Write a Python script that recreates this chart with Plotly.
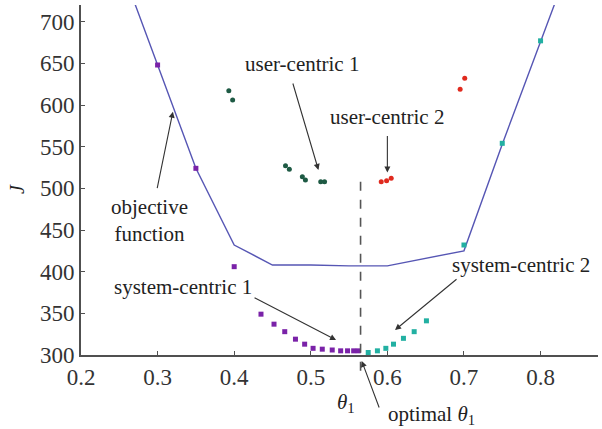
import plotly.graph_objects as go

# ---- data ----
obj_theta = [0.25, 0.30, 0.35, 0.40, 0.45, 0.50, 0.55, 0.60, 0.70, 0.75, 0.80, 0.85]
obj_J = [772, 648, 524, 432, 408, 408, 407, 407, 425, 553, 676, 799]

sys1_theta = [0.30, 0.35, 0.40, 0.435, 0.452, 0.466, 0.480, 0.492, 0.503, 0.515, 0.528, 0.539, 0.548, 0.556, 0.562]
sys1_J = [648, 524, 406, 349, 337, 328, 319, 313, 308, 307, 306, 305, 305, 305, 305]

sys2_theta = [0.575, 0.587, 0.598, 0.608, 0.621, 0.635, 0.651, 0.70, 0.75, 0.80]
sys2_J = [303, 305, 308, 313, 320, 328, 341, 432, 554, 677]

user1_theta = [0.393, 0.398, 0.467, 0.472, 0.489, 0.493, 0.513, 0.518]
user1_J = [617, 606, 527, 523, 514, 510, 508, 508]

user2_theta = [0.592, 0.599, 0.605, 0.695, 0.701]
user2_J = [508, 509, 512, 619, 632]

optimal_theta = 0.565
optimal_J_top = 508

x_range = [0.2, 0.875]
y_range = [300, 720]
x_ticks = [0.2, 0.3, 0.4, 0.5, 0.6, 0.7, 0.8]
y_ticks = [300, 350, 400, 450, 500, 550, 600, 650, 700]

FONT = "Liberation Serif"

fig = go.Figure()
fig.add_trace(go.Scatter(x=obj_theta, y=obj_J, mode="lines",
                         line=dict(color="#5656b4", width=1.4), showlegend=False))
fig.add_trace(go.Scatter(x=sys1_theta, y=sys1_J, mode="markers",
                         marker=dict(symbol="square", size=5, color="#7a22a8"), showlegend=False))
fig.add_trace(go.Scatter(x=sys2_theta, y=sys2_J, mode="markers",
                         marker=dict(symbol="square", size=5, color="#22b0a2"), showlegend=False))
fig.add_trace(go.Scatter(x=user1_theta, y=user1_J, mode="markers",
                         marker=dict(symbol="circle", size=5, color="#1e5a44"), showlegend=False))
fig.add_trace(go.Scatter(x=user2_theta, y=user2_J, mode="markers",
                         marker=dict(symbol="circle", size=5, color="#e02a1e"), showlegend=False))

# dashed optimal line (extends a little below the axis)
xfrac = (optimal_theta - x_range[0]) / (x_range[1] - x_range[0])
yfrac = (optimal_J_top - y_range[0]) / (y_range[1] - y_range[0])
fig.add_shape(type="line", xref="x domain", yref="y domain",
              x0=xfrac, x1=xfrac, y0=yfrac, y1=-0.05,
              line=dict(color="#555555", width=1.6, dash="dash"))

acol = "#333333"
def arrow(x, y, ax, ay, yref="y"):
    fig.add_annotation(x=x, y=y, xref="x", yref=yref, ax=ax, ay=ay, text="",
                       showarrow=True, arrowhead=2, arrowsize=1.1, arrowwidth=1.1,
                       arrowcolor=acol)

def label(x, y, text, yref="y", size=21):
    fig.add_annotation(x=x, y=y, xref="x", yref=yref, text=text, showarrow=False,
                       xanchor="center", yanchor="middle",
                       font=dict(family=FONT, size=size, color="#222222"))

# objective function
label(0.289, 462, "objective<br>function")
arrow(0.320, 592, -16, 78)
# user-centric 1
label(0.488, 649, "user-centric 1")
arrow(0.510, 522, -26, -88)
# user-centric 2
label(0.600, 586, "user-centric 2")
arrow(0.600, 519, 0, -38)
# system-centric 1
label(0.333, 382, "system-centric 1")
arrow(0.533, 318, -83, -43)
# system-centric 2
label(0.775, 408, "system-centric 2")
arrow(0.610, 330, 63, -52)
# optimal theta
label(0.657, -0.171, "optimal <i>θ</i><sub>1</sub>", yref="paper")
arrow(0.5665, -0.017, 18, 48, yref="paper")

# axis titles
label(0.5465, -0.137, "<i>θ</i><sub>1</sub>", yref="paper", size=21)
fig.add_annotation(x=-0.124, y=0.474, xref="paper", yref="paper", text="<i>J</i>",
                   showarrow=False, textangle=-90, xanchor="center", yanchor="middle",
                   font=dict(family=FONT, size=20, color="#222222"))

fig.update_xaxes(range=x_range, tickvals=x_ticks, ticktext=[str(t) for t in x_ticks],
                 showgrid=False, zeroline=False, showline=True, linecolor="#505050",
                 linewidth=2, ticks="inside", ticklen=4, tickcolor="#505050",
                 tickfont=dict(family=FONT, size=23, color="#333333"))
fig.update_yaxes(range=y_range, tickvals=y_ticks, showgrid=False, zeroline=False,
                 showline=True, linecolor="#505050", linewidth=2, ticks="inside",
                 ticklen=4, tickcolor="#505050",
                 tickfont=dict(family=FONT, size=23, color="#333333"))

fig.update_layout(width=602, height=429, margin=dict(l=81, r=4, t=5, b=74),
                  plot_bgcolor="white", paper_bgcolor="white", showlegend=False,
                  font=dict(family=FONT))

fig.write_html("out.html", config={"displayModeBar": False},
               post_script="document.body.style.margin='0';document.body.style.padding='0';")
